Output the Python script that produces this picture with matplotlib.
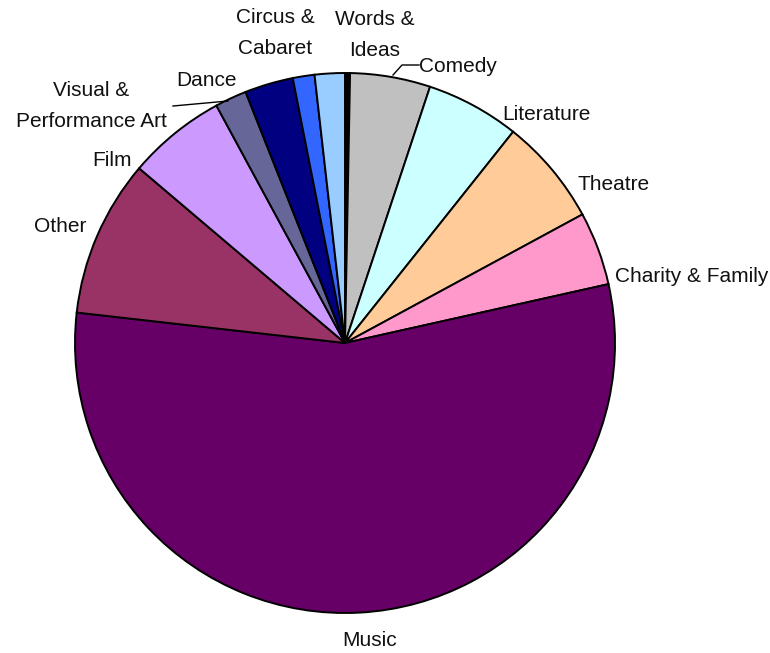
import numpy as np
import matplotlib
matplotlib.use('Agg')
import matplotlib.pyplot as plt

# Share of events by genre (percent), clockwise from 12 o'clock
categories = ['', 'Comedy', 'Literature', 'Theatre', 'Charity & Family', 'Music', 'Other',
              'Film', 'Visual & Performance Art', 'Dance', 'Circus & Cabaret', 'Words & Ideas']
shares = [0.3, 4.8, 5.6, 6.4, 4.4, 55.3, 9.4, 5.9, 1.9, 2.9, 1.3, 1.8]
colors = ['#000000', '#C0C0C0', '#CCFFFF', '#FFCC99', '#FF99CC', '#660066', '#993366',
          '#CC99FF', '#666699', '#000080', '#3366FF', '#99CCFF']

# Label text and where it sits (pixel position of the text centre)
label_text = {
    'Comedy': 'Comedy',
    'Literature': 'Literature',
    'Theatre': 'Theatre',
    'Charity & Family': 'Charity & Family',
    'Music': 'Music',
    'Other': 'Other',
    'Film': 'Film',
    'Visual & Performance Art': 'Visual &\nPerformance Art',
    'Dance': 'Dance',
    'Circus & Cabaret': 'Circus &\nCabaret',
    'Words & Ideas': 'Words &\nIdeas',
}
label_pos = {
    'Comedy': (458, 67),
    'Literature': (546, 115),
    'Theatre': (614, 185),
    'Charity & Family': (692, 276),
    'Music': (370, 641),
    'Other': (60, 226),
    'Film': (112, 160),
    'Visual & Performance Art': (91, 106),
    'Dance': (206, 80),
    'Circus & Cabaret': (275, 33),
    'Words & Ideas': (375, 35),
}

W, H = 770, 653
cx, cy, R = 345, 343, 270

fig = plt.figure(figsize=(W / 100, H / 100), dpi=100)
ax = fig.add_axes([0, 0, 1, 1])
ax.pie(shares, colors=colors, startangle=90, counterclock=False, radius=R,
       wedgeprops=dict(edgecolor='black', linewidth=1.4))
ax.set_xlim(-cx, W - cx)
ax.set_ylim(-(H - cy), cy)
ax.set_aspect('equal')
ax.axis('off')


def to_data(px, py):
    return px - cx, cy - py


for name, txt in label_text.items():
    x, y = to_data(*label_pos[name])
    ax.text(x, y, txt, ha='center', va='center', fontsize=15,
            family='Liberation Sans', linespacing=1.75, color='#111111')

# leader lines
for pts in [[(393, 75), (402, 65), (419, 65)],
            [(173, 106), (228, 101)]]:
    xs, ys = zip(*[to_data(*p) for p in pts])
    ax.plot(xs, ys, color='black', linewidth=1.0)

fig.savefig('out.png', dpi=100, facecolor='white')
